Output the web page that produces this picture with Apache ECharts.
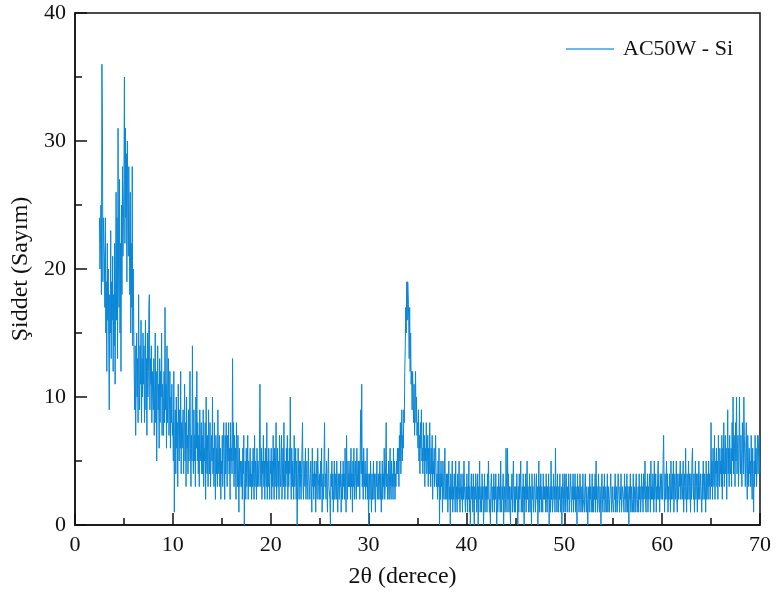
<!DOCTYPE html>
<html>
<head>
<meta charset="utf-8">
<script src="https://cdn.jsdelivr.net/npm/echarts@6/dist/echarts.min.js"></script>
<style>
html,body{margin:0;padding:0;background:#fff;}
#chart{width:778px;height:598px;}
</style>
</head>
<body>
<div id="chart"></div>
<script>
// Scan grid: 0.05° steps
const scanStep = 0.05;
const seriesName = 'AC50W - Si';
const xTicks = [0, 10, 20, 30, 40, 50, 60, 70];
const yTicks = [0, 10, 20, 30, 40];

// 2.50 – 2.95
const counts2 = [24,20,22,25,18,36,32,19,24,22];

// rows of one degree each, starting at 3°
const counts3to9 = [
  [21,17,24,15,19,12,22,16,20,14,9,18,15,23,13,19,16,21,12,18],
  [14,22,11,19,26,16,24,13,31,20,17,27,15,22,12,25,18,28,21,24],
  [27,35,22,31,24,29,19,30,25,21,28,23,18,26,15,22,17,28,14,20],
  [16,12,9,14,7,11,15,10,13,8,18,12,9,14,11,16,8,13,10,15],
  [11,14,8,12,16,9,13,7,15,10,12,17,18,9,13,11,14,8,12,10],
  [9,13,7,11,15,8,12,5,10,14,9,11,6,13,8,12,10,15,7,11],
  [10,7,12,8,17,9,11,6,14,8,10,13,7,9,12,6,10,8,11,7]
];

// starting at 10°
const counts10to19 = [
  [8,5,12,1,7,9,4,10,6,8,3,11,7,5,9,6,12,4,8,6],
  [6,9,4,7,11,5,8,3,10,6,7,4,9,5,8,12,6,3,7,5],
  [14,6,4,9,5,7,3,10,6,12,5,8,4,7,3,9,6,5,8,4],
  [7,4,9,3,6,5,8,2,10,5,4,7,3,9,6,4,8,3,5,7],
  [5,10,4,6,3,8,5,2,7,4,6,3,9,5,4,7,3,6,2,5],
  [4,7,3,6,8,5,2,7,4,8,6,3,7,5,8,4,6,2,8,5],
  [6,4,13,5,8,3,7,4,6,2,8,5,3,7,4,1,6,3,5,4],
  [3,5,2,6,4,7,0,3,5,2,6,3,4,7,2,5,3,4,6,3],
  [4,2,5,3,6,4,2,7,3,5,4,2,6,3,5,4,3,6,11,4],
  [3,6,2,5,4,7,3,5,2,6,4,3,8,2,5,3,6,4,2,5]
];

// starting at 20°
const counts20to32 = [
  [4,6,2,5,3,7,4,2,6,3,5,8,2,4,6,3,5,2,7,4],
  [3,5,7,2,4,6,3,8,4,2,5,3,6,4,7,2,5,3,6,4],
  [10,4,2,6,3,5,4,2,7,3,4,6,2,5,0,3,6,4,2,5],
  [3,5,2,4,6,8,3,2,5,4,3,6,2,4,5,3,2,6,4,3],
  [2,4,5,3,1,6,3,4,2,5,3,4,1,5,3,2,6,4,3,2],
  [4,2,5,3,6,1,3,4,2,5,8,3,4,2,5,3,1,4,6,3],
  [3,2,0,4,3,5,2,4,1,3,5,2,3,4,2,5,3,1,4,3],
  [2,4,3,5,1,3,4,2,5,3,4,2,6,3,1,7,4,2,5,3],
  [4,3,5,2,6,3,4,1,5,3,6,2,4,5,3,2,6,4,3,5],
  [3,5,2,6,9,4,11,3,5,2,6,4,3,5,2,4,3,6,2,4],
  [0,3,4,2,5,3,1,4,2,3,5,2,4,3,1,4,3,5,2,3],
  [4,2,3,5,2,4,1,3,5,2,4,3,6,2,3,5,8,3,4,2],
  [3,5,2,4,6,3,2,5,3,4,2,6,3,5,2,4,3,5,4,6]
];

// starting at 33°
const counts33to39 = [
  [4,6,3,7,5,8,4,6,9,5,7,6,9,8,12,14,17,15,19,16],
  [19,18,16,13,17,12,15,11,12,9,12,10,8,11,7,9,12,8,10,7],
  [8,6,9,5,7,4,8,6,9,5,6,4,8,5,7,3,6,5,8,4],
  [5,7,3,6,4,8,5,3,6,4,7,2,5,4,6,3,5,7,4,3],
  [4,2,5,3,6,0,4,2,5,3,4,1,5,3,2,4,6,2,3,4],
  [2,4,1,3,5,2,3,0,4,2,3,5,1,3,2,4,3,1,5,2],
  [3,1,4,2,3,5,2,1,3,4,2,3,1,4,2,5,3,2,1,3]
];

// starting at 40°
const counts40to59 = [
  [2,4,1,3,2,5,1,3,0,2,4,2,3,1,4,2,0,3,2,4],
  [3,1,2,4,0,3,2,5,1,2,3,1,4,2,3,0,2,4,1,3],
  [2,3,1,4,2,5,3,1,2,0,3,4,2,1,3,2,4,1,3,2],
  [4,2,0,3,1,2,4,2,3,1,5,2,1,3,2,4,0,2,3,1],
  [2,6,3,1,6,2,4,1,3,2,0,3,2,4,1,3,5,2,1,3],
  [1,3,2,4,2,0,3,1,4,2,3,5,1,2,3,1,4,2,0,3],
  [2,4,1,3,5,2,3,1,2,4,1,3,2,0,4,2,3,1,2,4],
  [3,1,2,4,2,3,0,2,5,1,3,2,4,1,3,2,1,4,2,3],
  [2,3,1,4,2,1,3,2,4,0,2,3,1,5,2,3,1,2,4,2],
  [3,1,6,2,3,1,4,2,1,3,2,4,1,2,3,0,2,4,3,1],
  [2,4,1,3,4,2,1,3,2,4,1,2,3,4,2,1,3,2,4,1],
  [3,2,4,1,3,2,0,4,2,3,1,2,4,3,1,2,3,1,4,2],
  [2,1,3,4,2,1,3,2,0,2,3,1,4,2,3,1,2,4,1,3],
  [1,3,2,4,1,5,2,3,1,2,4,2,1,3,2,0,3,4,2,1],
  [3,2,4,1,2,3,1,2,4,1,3,2,1,2,3,4,2,1,3,2],
  [2,1,3,2,4,1,2,3,1,2,4,3,2,1,3,2,4,1,2,3],
  [3,2,1,4,2,3,1,2,4,1,3,2,0,3,2,4,1,3,2,1],
  [2,4,1,3,2,1,3,4,2,1,2,3,1,4,2,3,1,2,4,2],
  [3,1,4,2,3,5,2,1,3,2,4,1,3,2,4,3,1,5,2,3],
  [2,4,3,1,5,2,3,4,1,3,2,4,5,2,3,1,4,3,2,4]
];

// starting at 60°
const counts60to70 = [
  [3,2,5,7,3,1,4,2,3,5,2,4,1,3,2,4,3,1,5,2],
  [3,4,2,5,1,3,4,2,3,5,2,1,4,3,2,4,3,5,2,3],
  [4,2,3,5,1,3,4,2,6,3,1,4,2,3,5,2,4,3,1,4],
  [2,5,6,3,2,4,1,3,5,2,4,3,1,4,2,5,3,2,4,3],
  [3,1,4,2,5,3,2,4,3,1,5,2,4,3,2,5,3,4,2,3],
  [8,3,5,2,6,4,3,7,2,5,4,6,3,5,2,7,4,3,6,4],
  [5,3,7,2,6,4,8,3,5,7,4,6,2,5,9,4,6,3,7,5],
  [4,6,3,8,5,10,4,7,6,3,8,5,10,4,6,7,3,5,10,6],
  [4,7,5,3,8,6,4,10,7,5,3,6,8,4,2,7,5,3,6,4],
  [5,3,7,4,2,6,4,1,5,3,7,4,6,3,5,7,4,6,7,5],
  [4]
];

const data = [];
counts2.forEach((v, j) => data.push([+(2.5 + j * scanStep).toFixed(2), v]));
function addRows(startDeg, rows) {
  rows.forEach((row, r) => row.forEach((v, j) => {
    data.push([+(startDeg + r + j * scanStep).toFixed(2), v]);
  }));
}
addRows(3, counts3to9);
addRows(10, counts10to19);
addRows(20, counts20to32);
addRows(33, counts33to39);
addRows(40, counts40to59);
addRows(60, counts60to70);

const font = '"Liberation Serif", "Times New Roman", serif';
const chart = echarts.init(document.getElementById('chart'), null, {renderer: 'canvas'});
chart.setOption({
  animation: false,
  backgroundColor: '#fff',
  grid: {
    left: 75, right: 18, top: 13, bottom: 73,
    outerBoundsMode: 'none', containLabel: false,
    show: true, borderColor: '#111', borderWidth: 1.5, backgroundColor: 'transparent'
  },
  legend: {
    right: 40, top: 33,
    itemWidth: 48, itemHeight: 1.5, icon: 'rect', itemGap: 10,
    textStyle: {fontFamily: font, fontSize: 22, color: '#111', padding: [0, 0, 0, 4]},
    data: [seriesName]
  },
  xAxis: {
    type: 'value', min: xTicks[0], max: xTicks[xTicks.length - 1], interval: 10,
    name: '2θ (derece)', nameLocation: 'middle', nameGap: 40,
    nameTextStyle: {fontFamily: font, fontSize: 24, color: '#111', padding: [0, 30, 0, 0]},
    axisLine: {show: true, lineStyle: {color: '#111', width: 1.5}},
    axisTick: {show: true, inside: true, length: 12, lineStyle: {color: '#111', width: 1.5}},
    minorTick: {show: true, splitNumber: 2, length: 7, lineStyle: {color: '#111', width: 1.5}},
    axisLabel: {fontFamily: font, fontSize: 22, color: '#111', margin: 9},
    splitLine: {show: false}
  },
  yAxis: {
    type: 'value', min: yTicks[0], max: yTicks[yTicks.length - 1], interval: 10,
    name: 'Şiddet (Sayım)', nameLocation: 'middle', nameGap: 40,
    nameTextStyle: {fontFamily: font, fontSize: 24, color: '#111'},
    axisLine: {show: true, lineStyle: {color: '#111', width: 1.5}},
    axisTick: {show: true, inside: true, length: 12, lineStyle: {color: '#111', width: 1.5}},
    minorTick: {show: true, splitNumber: 2, length: 7, lineStyle: {color: '#111', width: 1.5}},
    axisLabel: {fontFamily: font, fontSize: 22, color: '#111', margin: 9},
    splitLine: {show: false}
  },
  series: [{
    name: seriesName,
    type: 'line',
    data: data,
    symbol: 'none',
    showSymbol: false,
    sampling: null,
    lineStyle: {color: '#0a86d6', width: 1},
    itemStyle: {color: '#3aa2e4'}
  }]
});
</script>
</body>
</html>
